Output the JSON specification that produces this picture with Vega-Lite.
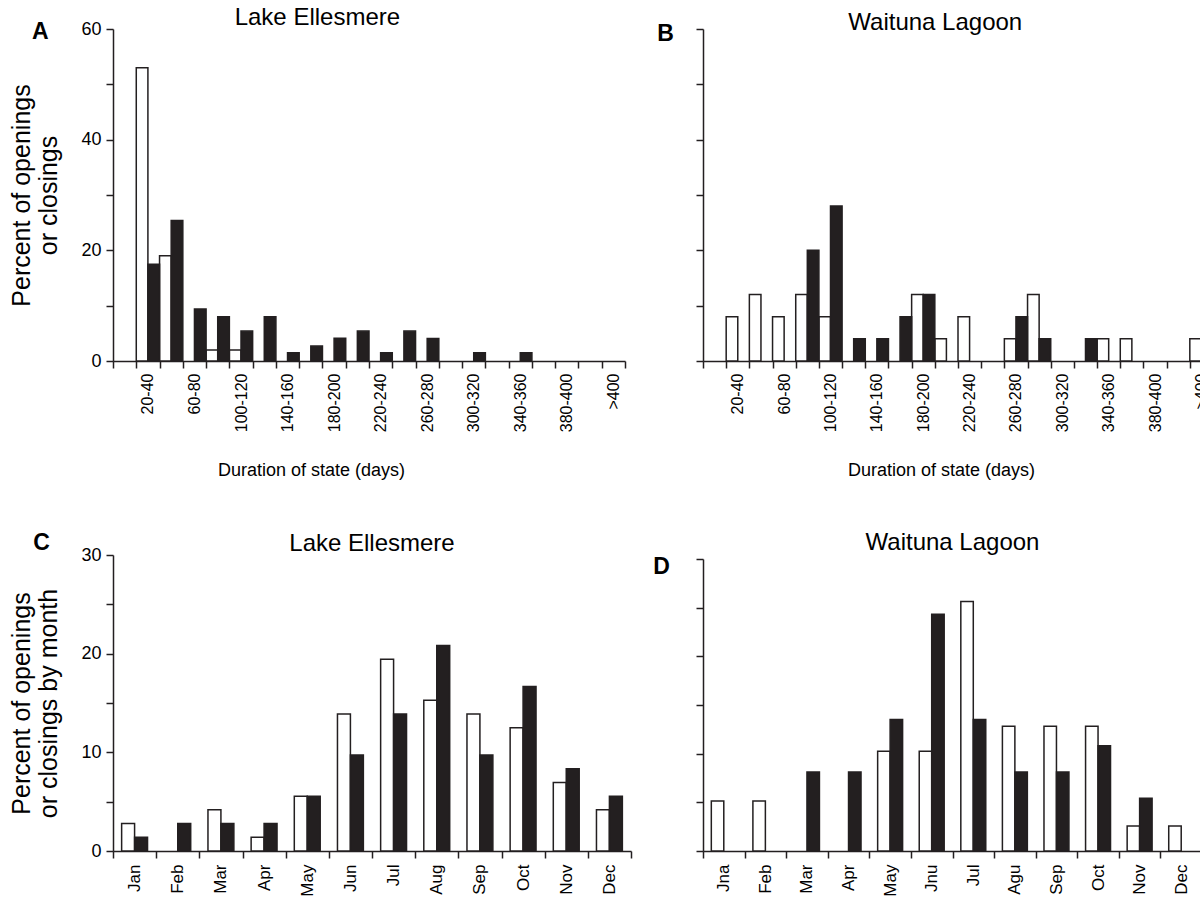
{
  "$schema": "https://vega.github.io/schema/vega-lite/v6.json",
  "padding": {"left": 9, "top": 6, "right": 0, "bottom": 0},
  "background": "white",
  "title": {"text": "A", "anchor": "start", "frame": "bounds", "fontWeight": "bold", "fontSize": 23, "dx": 23, "dy": 42},
  "config": {
    "font": "Liberation Sans",
    "view": {"stroke": null},
    "axis": {
      "domainColor": "#231f20", "domainWidth": 1.5,
      "tickColor": "#231f20", "tickWidth": 1.5, "tickSize": 7,
      "labelColor": "#000000", "titleColor": "#000000",
      "labelFont": "Liberation Sans", "titleFont": "Liberation Sans",
      "titleFontWeight": "normal", "grid": false
    },
    "title": {"font": "Liberation Sans", "fontWeight": "normal", "fontSize": 24, "color": "#000000"}
  },
  "datasets": {
    "dur_ellesmere": [
      {"duration": "20-40", "state": "Open", "percent": 53.0},
      {"duration": "20-40", "state": "Closed", "percent": 17.5},
      {"duration": "40-60", "state": "Open", "percent": 19.0},
      {"duration": "40-60", "state": "Closed", "percent": 25.4},
      {"duration": "60-80", "state": "Closed", "percent": 9.4},
      {"duration": "80-100", "state": "Open", "percent": 2.0},
      {"duration": "80-100", "state": "Closed", "percent": 8.0},
      {"duration": "100-120", "state": "Open", "percent": 2.0},
      {"duration": "100-120", "state": "Closed", "percent": 5.4},
      {"duration": "120-140", "state": "Closed", "percent": 8.0},
      {"duration": "140-160", "state": "Closed", "percent": 1.5},
      {"duration": "160-180", "state": "Closed", "percent": 2.7},
      {"duration": "180-200", "state": "Closed", "percent": 4.1},
      {"duration": "200-220", "state": "Closed", "percent": 5.4},
      {"duration": "220-240", "state": "Closed", "percent": 1.5},
      {"duration": "240-260", "state": "Closed", "percent": 5.4},
      {"duration": "260-280", "state": "Closed", "percent": 4.05},
      {"duration": "300-320", "state": "Closed", "percent": 1.5},
      {"duration": "340-360", "state": "Closed", "percent": 1.5}
    ],
    "dur_waituna": [
      {"duration": "20-40", "state": "Open", "percent": 8},
      {"duration": "40-60", "state": "Open", "percent": 12},
      {"duration": "60-80", "state": "Open", "percent": 8},
      {"duration": "80-100", "state": "Open", "percent": 12},
      {"duration": "80-100", "state": "Closed", "percent": 20},
      {"duration": "100-120", "state": "Open", "percent": 8},
      {"duration": "100-120", "state": "Closed", "percent": 28},
      {"duration": "120-140", "state": "Closed", "percent": 4},
      {"duration": "140-160", "state": "Closed", "percent": 4},
      {"duration": "160-180", "state": "Closed", "percent": 8},
      {"duration": "180-200", "state": "Open", "percent": 12},
      {"duration": "180-200", "state": "Closed", "percent": 12},
      {"duration": "200-220", "state": "Open", "percent": 4},
      {"duration": "220-240", "state": "Open", "percent": 8},
      {"duration": "260-280", "state": "Open", "percent": 4},
      {"duration": "260-280", "state": "Closed", "percent": 8},
      {"duration": "280-300", "state": "Open", "percent": 12},
      {"duration": "280-300", "state": "Closed", "percent": 4},
      {"duration": "320-340", "state": "Closed", "percent": 4},
      {"duration": "340-360", "state": "Open", "percent": 4},
      {"duration": "360-380", "state": "Open", "percent": 4},
      {"duration": ">400", "state": "Open", "percent": 4},
      {"duration": ">400", "state": "Closed", "percent": 8}
    ],
    "month_ellesmere": [
      {"month": "Jan", "event": "Openings", "percent": 2.78},
      {"month": "Jan", "event": "Closings", "percent": 1.39},
      {"month": "Feb", "event": "Closings", "percent": 2.78},
      {"month": "Mar", "event": "Openings", "percent": 4.17},
      {"month": "Mar", "event": "Closings", "percent": 2.78},
      {"month": "Apr", "event": "Openings", "percent": 1.39},
      {"month": "Apr", "event": "Closings", "percent": 2.78},
      {"month": "May", "event": "Openings", "percent": 5.56},
      {"month": "May", "event": "Closings", "percent": 5.56},
      {"month": "Jun", "event": "Openings", "percent": 13.89},
      {"month": "Jun", "event": "Closings", "percent": 9.72},
      {"month": "Jul", "event": "Openings", "percent": 19.44},
      {"month": "Jul", "event": "Closings", "percent": 13.89},
      {"month": "Aug", "event": "Openings", "percent": 15.28},
      {"month": "Aug", "event": "Closings", "percent": 20.83},
      {"month": "Sep", "event": "Openings", "percent": 13.89},
      {"month": "Sep", "event": "Closings", "percent": 9.72},
      {"month": "Oct", "event": "Openings", "percent": 12.5},
      {"month": "Oct", "event": "Closings", "percent": 16.67},
      {"month": "Nov", "event": "Openings", "percent": 6.94},
      {"month": "Nov", "event": "Closings", "percent": 8.33},
      {"month": "Dec", "event": "Openings", "percent": 4.17},
      {"month": "Dec", "event": "Closings", "percent": 5.56}
    ],
    "month_waituna": [
      {"month": "Jna", "event": "Openings", "percent": 5.13},
      {"month": "Feb", "event": "Openings", "percent": 5.13},
      {"month": "Mar", "event": "Closings", "percent": 8.11},
      {"month": "Apr", "event": "Closings", "percent": 8.11},
      {"month": "May", "event": "Openings", "percent": 10.26},
      {"month": "May", "event": "Closings", "percent": 13.51},
      {"month": "Jnu", "event": "Openings", "percent": 10.26},
      {"month": "Jnu", "event": "Closings", "percent": 24.32},
      {"month": "Jul", "event": "Openings", "percent": 25.64},
      {"month": "Jul", "event": "Closings", "percent": 13.51},
      {"month": "Agu", "event": "Openings", "percent": 12.82},
      {"month": "Agu", "event": "Closings", "percent": 8.11},
      {"month": "Sep", "event": "Openings", "percent": 12.82},
      {"month": "Sep", "event": "Closings", "percent": 8.11},
      {"month": "Oct", "event": "Openings", "percent": 12.82},
      {"month": "Oct", "event": "Closings", "percent": 10.81},
      {"month": "Nov", "event": "Openings", "percent": 2.56},
      {"month": "Nov", "event": "Closings", "percent": 5.41},
      {"month": "Dec", "event": "Openings", "percent": 2.56}
    ]
  },
  "spacing": 20,
  "hconcat": [
    {
      "bounds": "flush",
      "spacing": 194,
      "vconcat": [
        {
          "width": 512, "height": 332,
          "title": {"text": "Lake Ellesmere", "frame": "bounds", "dy": 14},
          "data": {"name": "dur_ellesmere"},
          "encoding": {
            "y": {"field": "percent", "type": "quantitative", "scale": {"domain": [0, 60], "nice": false, "padding": 0},
              "axis": {"values": [0,10,20,30,40,50,60], "labelExpr": "datum.value % 20 === 0 ? datum.label : ''", "labelFontSize": 18, "labelPadding": 5,
                "title": ["Percent of openings", "or closings"], "titleFontSize": 25, "titleLineHeight": 27, "titleX": -92, "titleBaseline": "middle"}},
            "y2": {"datum": 0}
          },
          "layer": [
            {
              "transform": [{"filter": "datum.state === 'Open'"}],
              "mark": {"type": "bar", "fill": "#ffffff", "stroke": "#231f20", "strokeWidth": 1.5},
              "encoding": {
                "x": {"field": "duration", "type": "nominal", "bandPosition": 0,
                  "scale": {"domain": ["0-20","20-40","40-60","60-80","80-100","100-120","120-140","140-160","160-180","180-200","200-220","220-240","240-260","260-280","280-300","300-320","320-340","340-360","360-380","380-400","400-420",">400"], "paddingInner": 0, "paddingOuter": 0},
                  "axis": {"tickBand": "extent", "labelAngle": -90, "labelFontSize": 16, "labelPadding": 5,
                    "labelExpr": "indexof(['20-40','60-80','100-120','140-160','180-200','220-240','260-280','300-320','340-360','380-400','>400'], datum.value) >= 0 ? datum.value : ''",
                    "title": "Duration of state (days)", "titleFontSize": 18, "titleX": 198, "titleY": 109, "titleAlign": "center", "titleBaseline": "middle"}},
                "x2": {"field": "duration", "bandPosition": 0.5}
              }
            },
            {
              "transform": [{"filter": "datum.state === 'Closed'"}],
              "mark": {"type": "bar", "fill": "#231f20", "stroke": "#231f20", "strokeWidth": 1.5},
              "encoding": {
                "x": {"field": "duration", "type": "nominal", "bandPosition": 0.5,
                  "scale": {"domain": ["0-20","20-40","40-60","60-80","80-100","100-120","120-140","140-160","160-180","180-200","200-220","220-240","240-260","260-280","280-300","300-320","320-340","340-360","360-380","380-400","400-420",">400"], "paddingInner": 0, "paddingOuter": 0},
                  "axis": {"tickBand": "extent", "labelAngle": -90, "labelFontSize": 16, "labelPadding": 5,
                    "labelExpr": "indexof(['20-40','60-80','100-120','140-160','180-200','220-240','260-280','300-320','340-360','380-400','>400'], datum.value) >= 0 ? datum.value : ''",
                    "title": "Duration of state (days)", "titleFontSize": 18, "titleX": 198, "titleY": 109, "titleAlign": "center", "titleBaseline": "middle"}},
                "x2": {"field": "duration", "bandPosition": 1}
              }
            }
          ]
        },
        {
          "width": 518, "height": 296,
          "title": {"text": "Lake Ellesmere", "dy": 29},
          "data": {"name": "month_ellesmere"},
          "encoding": {
            "y": {"field": "percent", "type": "quantitative", "scale": {"domain": [0, 30], "nice": false, "padding": 0},
              "axis": {"values": [0,5,10,15,20,25,30], "labelExpr": "datum.value % 10 === 0 ? datum.label : ''", "labelFontSize": 18, "labelPadding": 5,
                "title": ["Percent of openings", "or closings by month"], "titleFontSize": 25, "titleLineHeight": 27, "titleX": -92, "titleBaseline": "middle"}},
            "y2": {"datum": 0}
          },
          "layer": [
            {
              "transform": [{"filter": "datum.event === 'Openings'"}],
              "mark": {"type": "bar", "fill": "#ffffff", "stroke": "#231f20", "strokeWidth": 1.5},
              "encoding": {
                "x": {"field": "month", "type": "nominal", "bandPosition": 0.2,
                  "scale": {"domain": ["Jan","Feb","Mar","Apr","May","Jun","Jul","Aug","Sep","Oct","Nov","Dec"], "paddingInner": 0, "paddingOuter": 0},
                  "axis": {"tickBand": "extent", "labelAngle": -90, "labelFontSize": 17, "labelPadding": 6,
                    "title": "C", "titleX": -72, "titleY": -309, "titleAngle": 0, "titleAlign": "center", "titleBaseline": "middle", "titleFontSize": 23, "titleFontWeight": "bold"}},
                "x2": {"field": "month", "bandPosition": 0.5}
              }
            },
            {
              "transform": [{"filter": "datum.event === 'Closings'"}],
              "mark": {"type": "bar", "fill": "#231f20", "stroke": "#231f20", "strokeWidth": 1.5},
              "encoding": {
                "x": {"field": "month", "type": "nominal", "bandPosition": 0.5,
                  "scale": {"domain": ["Jan","Feb","Mar","Apr","May","Jun","Jul","Aug","Sep","Oct","Nov","Dec"], "paddingInner": 0, "paddingOuter": 0},
                  "axis": {"tickBand": "extent", "labelAngle": -90, "labelFontSize": 17, "labelPadding": 6,
                    "title": "C", "titleX": -72, "titleY": -309, "titleAngle": 0, "titleAlign": "center", "titleBaseline": "middle", "titleFontSize": 23, "titleFontWeight": "bold"}},
                "x2": {"field": "month", "bandPosition": 0.8}
              }
            }
          ]
        }
      ]
    },
    {
      "bounds": "flush",
      "spacing": 198,
      "vconcat": [
        {
          "width": 510, "height": 332,
          "title": {"text": "Waituna Lagoon", "frame": "bounds", "dy": 17},
          "data": {"name": "dur_waituna"},
          "encoding": {
            "y": {"field": "percent", "type": "quantitative", "scale": {"domain": [0, 60], "nice": false, "padding": 0},
              "axis": {"values": [0,10,20,30,40,50,60], "labels": false,
                "title": "B", "titleX": -38, "titleY": 4, "titleAngle": 0, "titleAlign": "center", "titleBaseline": "middle", "titleFontSize": 23, "titleFontWeight": "bold"}},
            "y2": {"datum": 0}
          },
          "layer": [
            {
              "transform": [{"filter": "datum.state === 'Open'"}],
              "mark": {"type": "bar", "fill": "#ffffff", "stroke": "#231f20", "strokeWidth": 1.5},
              "encoding": {
                "x": {"field": "duration", "type": "nominal", "bandPosition": 0,
                  "scale": {"domain": ["0-20","20-40","40-60","60-80","80-100","100-120","120-140","140-160","160-180","180-200","200-220","220-240","240-260","260-280","280-300","300-320","320-340","340-360","360-380","380-400","400-420",">400"], "paddingInner": 0, "paddingOuter": 0},
                  "axis": {"tickBand": "extent", "labelAngle": -90, "labelFontSize": 16, "labelPadding": 5,
                    "labelExpr": "indexof(['20-40','60-80','100-120','140-160','180-200','220-240','260-280','300-320','340-360','380-400','>400'], datum.value) >= 0 ? datum.value : ''",
                    "title": "Duration of state (days)", "titleFontSize": 18, "titleX": 238, "titleY": 109, "titleAlign": "center", "titleBaseline": "middle"}},
                "x2": {"field": "duration", "bandPosition": 0.5}
              }
            },
            {
              "transform": [{"filter": "datum.state === 'Closed'"}],
              "mark": {"type": "bar", "fill": "#231f20", "stroke": "#231f20", "strokeWidth": 1.5},
              "encoding": {
                "x": {"field": "duration", "type": "nominal", "bandPosition": 0.5,
                  "scale": {"domain": ["0-20","20-40","40-60","60-80","80-100","100-120","120-140","140-160","160-180","180-200","200-220","220-240","240-260","260-280","280-300","300-320","320-340","340-360","360-380","380-400","400-420",">400"], "paddingInner": 0, "paddingOuter": 0},
                  "axis": {"tickBand": "extent", "labelAngle": -90, "labelFontSize": 16, "labelPadding": 5,
                    "labelExpr": "indexof(['20-40','60-80','100-120','140-160','180-200','220-240','260-280','300-320','340-360','380-400','>400'], datum.value) >= 0 ? datum.value : ''",
                    "title": "Duration of state (days)", "titleFontSize": 18, "titleX": 238, "titleY": 109, "titleAlign": "center", "titleBaseline": "middle"}},
                "x2": {"field": "duration", "bandPosition": 1}
              }
            }
          ]
        },
        {
          "width": 499, "height": 292,
          "title": {"text": "Waituna Lagoon", "dy": 4},
          "data": {"name": "month_waituna"},
          "encoding": {
            "y": {"field": "percent", "type": "quantitative", "scale": {"domain": [0, 30], "nice": false, "padding": 0},
              "axis": {"values": [0,5,10,15,20,25,30], "labels": false,
                "title": "D", "titleX": -42, "titleY": 7, "titleAngle": 0, "titleAlign": "center", "titleBaseline": "middle", "titleFontSize": 23, "titleFontWeight": "bold"}},
            "y2": {"datum": 0}
          },
          "layer": [
            {
              "transform": [{"filter": "datum.event === 'Openings'"}],
              "mark": {"type": "bar", "fill": "#ffffff", "stroke": "#231f20", "strokeWidth": 1.5},
              "encoding": {
                "x": {"field": "month", "type": "nominal", "bandPosition": 0.2,
                  "scale": {"domain": ["Jna","Feb","Mar","Apr","May","Jnu","Jul","Agu","Sep","Oct","Nov","Dec"], "paddingInner": 0, "paddingOuter": 0},
                  "axis": {"tickBand": "extent", "labelAngle": -90, "labelFontSize": 17, "labelPadding": 6, "title": null}},
                "x2": {"field": "month", "bandPosition": 0.5}
              }
            },
            {
              "transform": [{"filter": "datum.event === 'Closings'"}],
              "mark": {"type": "bar", "fill": "#231f20", "stroke": "#231f20", "strokeWidth": 1.5},
              "encoding": {
                "x": {"field": "month", "type": "nominal", "bandPosition": 0.5,
                  "scale": {"domain": ["Jna","Feb","Mar","Apr","May","Jnu","Jul","Agu","Sep","Oct","Nov","Dec"], "paddingInner": 0, "paddingOuter": 0},
                  "axis": {"tickBand": "extent", "labelAngle": -90, "labelFontSize": 17, "labelPadding": 6, "title": null}},
                "x2": {"field": "month", "bandPosition": 0.8}
              }
            }
          ]
        }
      ]
    }
  ]
}
